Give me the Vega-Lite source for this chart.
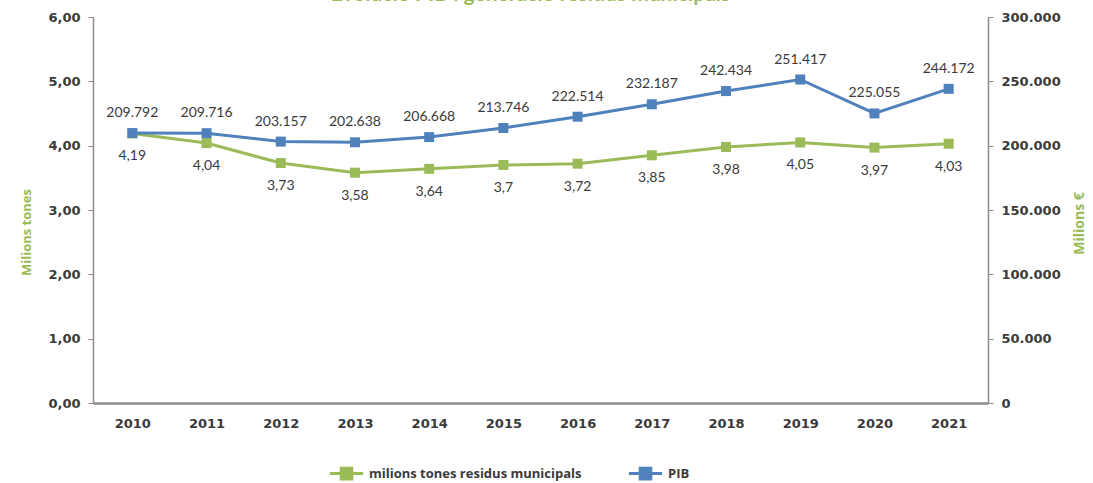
{
  "$schema": "https://vega.github.io/schema/vega-lite/v6.json",
  "width": 895,
  "height": 386,
  "autosize": {"type": "none"},
  "padding": {"left": 93, "top": 17, "right": 105, "bottom": 80},
  "background": "white",
  "config": {
    "locale": {"number": {"decimal": ",", "thousands": ".", "grouping": [3], "currency": ["", " €"]}},
    "font": "Lato",
    "view": {"stroke": null}
  },
  "title": {
    "text": "Evolució PIB i generació residus municipals",
    "color": "#9BBB59",
    "fontSize": 21,
    "fontWeight": "bold",
    "font": "Lato",
    "anchor": "middle",
    "dx": -10,
    "offset": 6
  },
  "data": {
    "values": [
      {"any": "2010", "residus": 4.19, "pib": 209792},
      {"any": "2011", "residus": 4.04, "pib": 209716},
      {"any": "2012", "residus": 3.73, "pib": 203157},
      {"any": "2013", "residus": 3.58, "pib": 202638},
      {"any": "2014", "residus": 3.64, "pib": 206668},
      {"any": "2015", "residus": 3.7, "pib": 213746},
      {"any": "2016", "residus": 3.72, "pib": 222514},
      {"any": "2017", "residus": 3.85, "pib": 232187},
      {"any": "2018", "residus": 3.98, "pib": 242434},
      {"any": "2019", "residus": 4.05, "pib": 251417},
      {"any": "2020", "residus": 3.97, "pib": 225055},
      {"any": "2021", "residus": 4.03, "pib": 244172}
    ]
  },
  "encoding": {
    "x": {
      "field": "any",
      "type": "ordinal",
      "scale": {"type": "point", "padding": 0.53},
      "axis": {
        "title": null,
        "labelAngle": 0,
        "ticks": false,
        "labelPadding": 14,
        "labelFont": "DejaVu Sans",
        "labelFontSize": 13,
        "labelFontWeight": "bold",
        "labelColor": "#3a3a3a",
        "domainColor": "#8c8c8c",
        "domainWidth": 2.5,
        "grid": false
      }
    }
  },
  "layer": [
    {
      "encoding": {
        "y": {
          "field": "residus",
          "type": "quantitative",
          "scale": {"domain": [0, 6], "nice": false},
          "axis": {
            "orient": "left",
            "values": [0, 1, 2, 3, 4, 5, 6],
            "format": ".2f",
            "title": "Milions tones",
            "titleFont": "Open Sans",
            "titleColor": "#9BBB59",
            "titleFontSize": 13,
            "titleFontWeight": "bold",
            "titlePadding": 14,
            "titleY": 215,
            "labelFont": "DejaVu Sans",
            "labelFontSize": 13,
            "labelFontWeight": "bold",
            "labelColor": "#3a3a3a",
            "labelPadding": 8,
            "tickSize": 5,
            "tickColor": "#8c8c8c",
            "domainColor": "#8c8c8c",
            "domainWidth": 1.5,
            "grid": false
          }
        }
      },
      "layer": [
        {
          "mark": {"type": "line", "strokeWidth": 3},
          "encoding": {
            "color": {
              "datum": "milions tones residus municipals",
              "scale": {"domain": ["milions tones residus municipals", "PIB"], "range": ["#9BBB59", "#4F81BD"]},
              "legend": {
                "title": null,
                "orient": "none",
                "direction": "horizontal",
                "legendX": 235,
                "legendY": 438,
                "symbolType": "M-1,0L1,0M-0.32,-0.32L0.32,-0.32L0.32,0.32L-0.32,0.32Z",
                "symbolSize": 1100,
                "symbolStrokeWidth": 3,
                "labelFont": "Open Sans",
                "labelFontSize": 13,
                "labelFontWeight": "bold",
                "labelColor": "#3a3a3a",
                "labelLimit": 400,
                "labelOffset": 4,
                "columnPadding": 40
              }
            }
          }
        },
        {
          "mark": {"type": "point", "shape": "square", "filled": true, "size": 100, "opacity": 1},
          "encoding": {"color": {"datum": "milions tones residus municipals"}}
        },
        {
          "mark": {"type": "text", "dy": 23, "fontSize": 14, "color": "#3a3a3a"},
          "encoding": {"text": {"field": "residus", "type": "quantitative", "format": ".3~g"}}
        }
      ]
    },
    {
      "encoding": {
        "y": {
          "field": "pib",
          "type": "quantitative",
          "scale": {"domain": [0, 300000], "nice": false},
          "axis": {
            "orient": "right",
            "values": [0, 50000, 100000, 150000, 200000, 250000, 300000],
            "format": ",d",
            "title": "Milions €",
            "titleAngle": 270,
            "titleFont": "Open Sans",
            "titleColor": "#9BBB59",
            "titleFontSize": 14,
            "titleFontWeight": "bold",
            "titlePadding": 26,
            "titleY": 206,
            "labelFont": "DejaVu Sans",
            "labelFontSize": 13,
            "labelFontWeight": "bold",
            "labelColor": "#3a3a3a",
            "labelPadding": 8,
            "tickSize": 5,
            "tickColor": "#8c8c8c",
            "domainColor": "#8c8c8c",
            "domainWidth": 1.5,
            "grid": false
          }
        }
      },
      "layer": [
        {
          "mark": {"type": "line", "strokeWidth": 3},
          "encoding": {"color": {"datum": "PIB"}}
        },
        {
          "mark": {"type": "point", "shape": "square", "filled": true, "size": 100, "opacity": 1},
          "encoding": {"color": {"datum": "PIB"}}
        },
        {
          "mark": {"type": "text", "dy": -20, "fontSize": 14, "color": "#3a3a3a"},
          "encoding": {"text": {"field": "pib", "type": "quantitative", "format": ",d"}}
        }
      ]
    }
  ],
  "resolve": {"scale": {"y": "independent"}}
}
